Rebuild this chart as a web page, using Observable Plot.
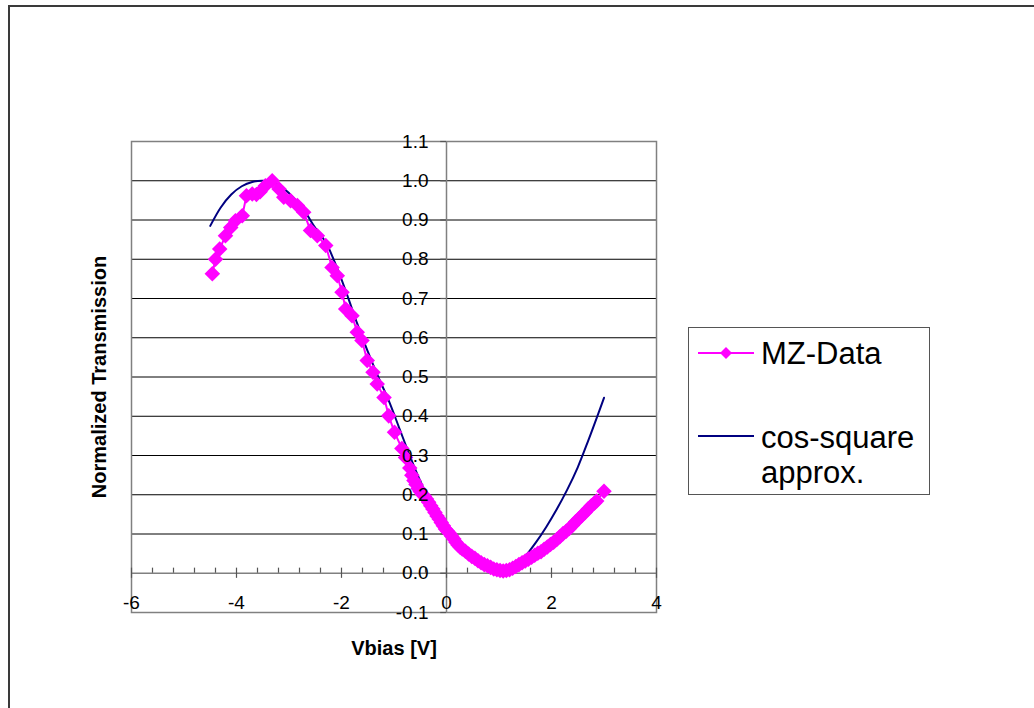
<!DOCTYPE html>
<html>
<head>
<meta charset="utf-8">
<script src="https://cdn.jsdelivr.net/npm/d3@7"></script>
<script src="https://cdn.jsdelivr.net/npm/@observablehq/plot@0.6"></script>
<style>
  html, body { margin: 0; padding: 0; background: #fff; overflow: hidden; }
  body { width: 1034px; height: 708px; position: relative; font-family: "Liberation Sans", Arial, sans-serif; }
  #border { position: absolute; left: 8px; top: 5px; width: 2000px; height: 2000px;
            border-top: 2px solid #3a3a3a; border-left: 2px solid #3a3a3a; box-sizing: border-box; }
  #chart { position: absolute; left: 0; top: 0; }
  #legend { position: absolute; left: 688px; top: 327px; width: 242px; height: 168px; box-sizing: border-box;
            border: 1px solid #555; background: #fff; font-size: 31px; color: #000; }
  .item { position: absolute; left: 0; }
  .item svg { position: absolute; left: 9px; }
  .item span { position: absolute; left: 72px; line-height: 35px; white-space: nowrap; }
</style>
</head>
<body>
<div id="border"></div>
<div id="chart"></div>
<div id="legend">
  <div class="item" style="top:0">
    <svg width="56" height="14" style="top:18px"><line x1="0" y1="7" x2="56" y2="7" stroke="#FF00FF" stroke-width="2"/><path d="M28,1 L34,7 L28,13 L22,7 Z" fill="#FF00FF"/></svg>
    <span style="top:8px">MZ-Data</span>
  </div>
  <div class="item" style="top:0">
    <svg width="56" height="6" style="top:105px"><line x1="0" y1="3" x2="56" y2="3" stroke="#000080" stroke-width="2"/></svg>
    <span style="top:92px">cos-square<br>approx.</span>
  </div>
</div>
<script>
// MZ-Data measurements: [Vbias, normalized transmission]
const mzData = [
  [-4.46,0.763],[-4.40,0.800],[-4.32,0.826],[-4.21,0.860],[-4.11,0.881],[-4.02,0.898],
  [-3.89,0.911],[-3.81,0.962],[-3.70,0.966],[-3.62,0.965],[-3.55,0.972],[-3.45,0.987],
  [-3.32,1.000],[-3.19,0.979],[-3.10,0.958],[-2.97,0.949],[-2.84,0.937],[-2.72,0.920],
  [-2.59,0.873],[-2.46,0.860],[-2.30,0.835],[-2.18,0.779],[-2.08,0.758],[-1.99,0.716],
  [-1.92,0.673],[-1.80,0.656],[-1.70,0.614],[-1.61,0.593],[-1.51,0.542],[-1.40,0.512],
  [-1.32,0.482],[-1.19,0.448],[-1.10,0.401],[-0.99,0.359],[-0.85,0.318],[-0.78,0.295],
  [-0.70,0.268],[-0.66,0.250],[-0.62,0.236],[-0.58,0.226],[-0.54,0.216],[-0.50,0.208],
  [-0.46,0.201],[-0.42,0.196],[-0.38,0.189],[-0.34,0.181],[-0.30,0.172],[-0.26,0.164],
  [-0.22,0.155],[-0.18,0.146],[-0.14,0.138],[-0.10,0.129],[-0.06,0.121],[-0.02,0.113],
  [0.02,0.107],[0.06,0.101],[0.10,0.094],[0.14,0.087],[0.18,0.079],[0.22,0.072],
  [0.26,0.066],[0.30,0.062],[0.36,0.056],[0.42,0.049],[0.48,0.043],[0.54,0.038],
  [0.60,0.032],[0.66,0.027],[0.72,0.022],[0.78,0.019],[0.84,0.015],[0.90,0.011],
  [0.96,0.009],[1.02,0.007],[1.08,0.006],[1.14,0.007],[1.20,0.009],[1.26,0.013],
  [1.32,0.017],[1.38,0.022],[1.44,0.027],[1.50,0.031],[1.56,0.036],[1.62,0.041],
  [1.68,0.046],[1.74,0.051],[1.80,0.055],[1.86,0.061],[1.92,0.067],[1.98,0.073],
  [2.04,0.079],[2.10,0.086],[2.16,0.093],[2.22,0.101],[2.28,0.107],[2.34,0.114],
  [2.40,0.122],[2.46,0.131],[2.52,0.139],[2.58,0.147],[2.64,0.155],[2.70,0.164],
  [2.76,0.172],[2.82,0.179],[2.86,0.184],[3.00,0.209]
];
// cos-square approximation: [Vbias, normalized transmission]
const cosData = [
  [-4.5,0.885],[-4.3,0.932],[-4.1,0.965],[-3.9,0.986],[-3.7,0.997],[-3.5,1.000],
  [-3.3,0.996],[-3.1,0.980],[-2.9,0.955],[-2.7,0.922],[-2.5,0.880],[-2.3,0.843],
  [-2.1,0.783],[-1.9,0.712],[-1.7,0.636],[-1.5,0.565],[-1.3,0.500],[-1.1,0.440],
  [-0.9,0.370],[-0.7,0.300],[-0.5,0.235],[-0.3,0.177],[-0.1,0.127],[0.1,0.085],
  [0.3,0.053],[0.5,0.028],[0.7,0.012],[0.9,0.004],[1.1,0.003],[1.3,0.014],
  [1.5,0.043],[1.7,0.078],[1.9,0.118],[2.1,0.163],[2.3,0.213],[2.5,0.270],
  [2.7,0.338],[2.9,0.410],[3.0,0.447]
];
const xMajorTicks = [-6, -4, -2, 0, 2, 4];
const xMinorTicks = [-5.6,-5.2,-4.8,-4.4,-3.6,-3.2,-2.8,-2.4,-1.6,-1.2,-0.8,-0.4,0.4,0.8,1.2,1.6,2.4,2.8,3.2,3.6];
const yTicks = [-0.1,0.0,0.1,0.2,0.3,0.4,0.5,0.6,0.7,0.8,0.9,1.0,1.1];
const yGrid = [0.1,0.2,0.3,0.4,0.5,0.6,0.7,0.8,0.9,1.0];
const xTitle = "Vbias [V]";
const yTitle = "Normalized Transmission";

const plot = Plot.plot({
  width: 1034,
  height: 708,
  marginLeft: 131,
  marginRight: 378,
  marginTop: 141,
  marginBottom: 96,
  style: { background: "transparent", fontFamily: "'Liberation Sans', Arial, sans-serif", color: "#000" },
  x: { domain: [-6, 4], axis: null },
  y: { domain: [-0.1, 1.1], axis: null },
  marks: [
    Plot.ruleY(yGrid, { stroke: "#000", strokeWidth: 1 }),
    Plot.frame({ stroke: "#808080", strokeWidth: 1.5 }),
    Plot.ruleX([0], { stroke: "#808080", strokeWidth: 1.5 }),
    Plot.ruleY([0], { stroke: "#808080", strokeWidth: 1.5 }),
    Plot.ruleY(yTicks, { x1: -0.11, x2: 0, stroke: "#555", strokeWidth: 1.2 }),
    Plot.ruleX(xMajorTicks, { y1: -0.013, y2: 0.013, stroke: "#555", strokeWidth: 1.2 }),
    Plot.ruleX(xMinorTicks, { y1: 0, y2: 0.013, stroke: "#555", strokeWidth: 1.2 }),
    Plot.line(cosData, { x: d => d[0], y: d => d[1], stroke: "#000080", strokeWidth: 2, curve: "catmull-rom" }),
    Plot.line(mzData, { x: d => d[0], y: d => d[1], stroke: "#FF00FF", strokeWidth: 2 }),
    Plot.dot(mzData, { x: d => d[0], y: d => d[1], symbol: "diamond2", r: 7, fill: "#FF00FF", stroke: "none" }),
    Plot.text(yTicks, { x: 0, y: d => d, text: d => d.toFixed(1), dx: -18, textAnchor: "end", fontSize: 19, fill: "#000" }),
    Plot.text(xMajorTicks, { x: d => d, y: 0, text: d => String(d), dy: 30, fontSize: 19, fill: "#000" }),
    Plot.text([xTitle], { frameAnchor: "bottom", dy: 36, lineAnchor: "middle", textAnchor: "middle", fontSize: 20, fontWeight: "bold", fill: "#000" }),
    Plot.text([yTitle], { frameAnchor: "left", dx: -32, rotate: -90, textAnchor: "middle", lineAnchor: "middle", fontSize: 20, fontWeight: "bold", fill: "#000" })
  ]
});
document.getElementById("chart").appendChild(plot);
</script>
</body>
</html>
